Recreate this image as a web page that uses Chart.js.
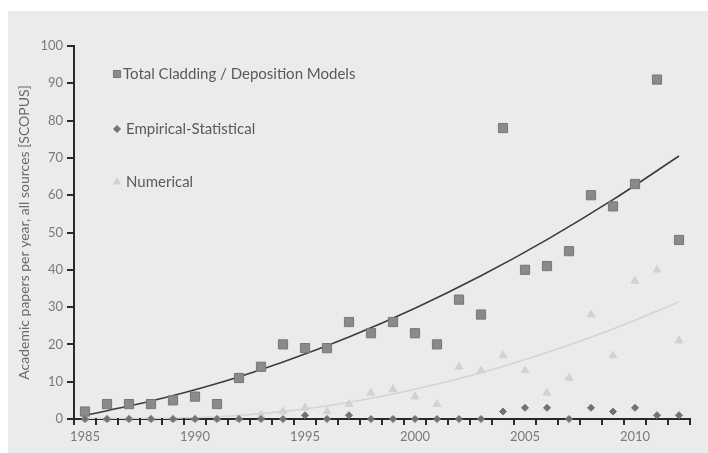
<!DOCTYPE html>
<html>
<head>
<meta charset="utf-8">
<script src="https://cdn.jsdelivr.net/npm/chart.js@4/dist/chart.umd.min.js"></script>
<style>
  html, body { margin: 0; padding: 0; background: #ffffff; }
  canvas { display: block; }
</style>
</head>
<body>
<canvas id="c" width="708" height="453"></canvas>
<script>
// Publication years (category axis)
const years = [1985, 1986, 1987, 1988, 1989, 1990, 1991, 1992, 1993, 1994,
               1995, 1996, 1997, 1998, 1999, 2000, 2001, 2002, 2003, 2004,
               2005, 2006, 2007, 2008, 2009, 2010, 2011, 2012];

// Papers per year, per model family
const totalModels = [2, 4, 4, 4, 5, 6, 4, 11, 14, 20,
                     19, 19, 26, 23, 26, 23, 20, 32, 28, 78,
                     40, 41, 45, 60, 57, 63, 91, 48];
const empirical   = [0, 0, 0, 0, 0, 0, 0, 0, 0, 0,
                     1, 0, 1, 0, 0, 0, 0, 0, 0, 2,
                     3, 3, 0, 3, 2, 3, 1, 1];
const numerical   = [0, 0, 0, 0, 0, 0, 0, 0, 1, 2,
                     3, 2, 4, 7, 8, 6, 4, 14, 13, 17,
                     13, 7, 11, 28, 17, 37, 40, 21];

// Trend curves, sampled every third year
const totalTrend     = [1.0, null, null, 4.8, null, null, 9.5, null, null, 15.3,
                        null, null, 22.0, null, null, 29.7, null, null, 38.4, null,
                        null, 48.1, null, null, 58.8, null, null, 70.5];
const numericalTrend = [0.2, null, null, 0.2, null, null, 0.6, null, null, 2.0,
                        null, null, 4.5, null, null, 8.0, null, null, 12.4, null,
                        null, 17.8, null, null, 24.1, null, null, 31.4];

const seriesNames = ['Total Cladding / Deposition Models', 'Empirical-Statistical', 'Numerical'];
const yTicks = [0, 10, 20, 30, 40, 50, 60, 70, 80, 90, 100];

const FONT = 'Lato, "Open Sans", sans-serif';
const AXIS_COLOR = '#2a2a2a';

// Panel background: white frame with a light grey plotting panel
const panelBg = {
  id: 'panelBg',
  beforeDraw(chart) {
    const ctx = chart.ctx;
    ctx.save();
    ctx.fillStyle = '#ffffff';
    ctx.fillRect(0, 0, chart.width, chart.height);
    ctx.fillStyle = '#ebebec';
    ctx.fillRect(8, 11, chart.width - 8, chart.height - 11);
    ctx.restore();
  }
};

// Tick marks: below the x axis between years, left of the y axis at each label
const axisTicks = {
  id: 'axisTicks',
  afterDraw(chart) {
    const ctx = chart.ctx;
    const xs = chart.scales.x;
    const ys = chart.scales.y;
    const area = chart.chartArea;
    ctx.save();
    ctx.strokeStyle = AXIS_COLOR;
    ctx.lineWidth = 2;
    ctx.lineCap = 'butt';
    ctx.beginPath();
    for (let i = 0; i <= years.length; i++) {
      const px = Math.round(xs.getPixelForValue(i - 0.5));
      ctx.moveTo(px, area.bottom - 1);
      ctx.lineTo(px, area.bottom + 6);
    }
    yTicks.forEach(v => {
      const py = Math.round(ys.getPixelForValue(v));
      ctx.moveTo(area.left + 1, py);
      ctx.lineTo(area.left - 7, py);
    });
    ctx.stroke();
    ctx.restore();
  }
};

// Stacked legend drawn inside the plot panel
const insideLegend = {
  id: 'insideLegend',
  afterDraw(chart) {
    const ctx = chart.ctx;
    const rows = [74, 129, 182];
    ctx.save();
    ctx.font = '15px ' + FONT;
    ctx.textBaseline = 'middle';
    ctx.textAlign = 'left';
    for (let i = 0; i < 3; i++) {
      const ds = chart.data.datasets[i];
      ctx.fillStyle = ds.pointBackgroundColor;
      ctx.strokeStyle = ds.pointBorderColor;
      ctx.lineWidth = 1;
      Chart.helpers.drawPoint(ctx, {
        pointStyle: ds.pointStyle,
        radius: ds.legendRadius,
        rotation: 0,
        borderWidth: 1
      }, 117, rows[i]);
      ctx.fillStyle = '#5a5a5a';
      ctx.fillText(ds.label, i === 0 ? 123 : 126, rows[i]);
    }
    ctx.restore();
  }
};

new Chart(document.getElementById('c'), {
  type: 'line',
  data: {
    labels: years.map(String),
    datasets: [
      {
        label: seriesNames[0],
        data: totalModels,
        showLine: false,
        pointStyle: 'rect',
        pointRadius: 6.5,
        legendRadius: 5,
        pointBackgroundColor: '#8a8a8a',
        pointBorderColor: '#777777',
        pointBorderWidth: 1,
        clip: false
      },
      {
        label: seriesNames[1],
        data: empirical,
        showLine: false,
        pointStyle: 'rectRot',
        pointRadius: 3.5,
        legendRadius: 3.5,
        pointBackgroundColor: '#727272',
        pointBorderColor: '#727272',
        pointBorderWidth: 1,
        clip: false
      },
      {
        label: seriesNames[2],
        data: numerical,
        showLine: false,
        pointStyle: 'triangle',
        pointRadius: 4.5,
        legendRadius: 4,
        pointBackgroundColor: '#d2d2d2',
        pointBorderColor: '#d2d2d2',
        pointBorderWidth: 1,
        clip: false
      },
      {
        label: 'trend-total',
        data: totalTrend,
        spanGaps: true,
        cubicInterpolationMode: 'monotone',
        borderColor: '#3c3c3c',
        borderWidth: 1.6,
        pointRadius: 0,
        fill: false
      },
      {
        label: 'trend-numerical',
        data: numericalTrend,
        spanGaps: true,
        cubicInterpolationMode: 'monotone',
        borderColor: '#d4d4d4',
        borderWidth: 1.6,
        pointRadius: 0,
        fill: false
      }
    ]
  },
  options: {
    responsive: false,
    animation: false,
    events: [],
    layout: { padding: { left: 8, top: 46, right: 18, bottom: 0 } },
    plugins: {
      legend: { display: false },
      tooltip: { enabled: false }
    },
    scales: {
      x: {
        type: 'category',
        offset: true,
        grid: { display: false, drawTicks: false },
        border: { display: true, color: AXIS_COLOR, width: 2 },
        ticks: {
          autoSkip: false,
          maxRotation: 0,
          padding: 10,
          color: '#7a7a7a',
          font: { family: FONT, size: 13 },
          callback: function (value, index) {
            return years[index] % 5 === 0 ? String(years[index]) : '';
          }
        },
        afterFit(scale) { scale.height = 34; }
      },
      y: {
        type: 'linear',
        min: 0,
        max: 100,
        afterBuildTicks(scale) { scale.ticks = yTicks.map(v => ({ value: v })); },
        grid: { display: false, drawTicks: false },
        border: { display: true, color: AXIS_COLOR, width: 2 },
        ticks: {
          padding: 11,
          color: '#7a7a7a',
          font: { family: FONT, size: 13 }
        },
        title: {
          display: true,
          text: 'Academic papers per year, all sources [SCOPUS]',
          color: '#6a6a6a',
          font: { family: FONT, size: 14 },
          padding: { top: 8, bottom: 0 }
        },
        afterFit(scale) { scale.width = 66; }
      }
    }
  },
  plugins: [panelBg, axisTicks, insideLegend]
});
</script>
</body>
</html>
